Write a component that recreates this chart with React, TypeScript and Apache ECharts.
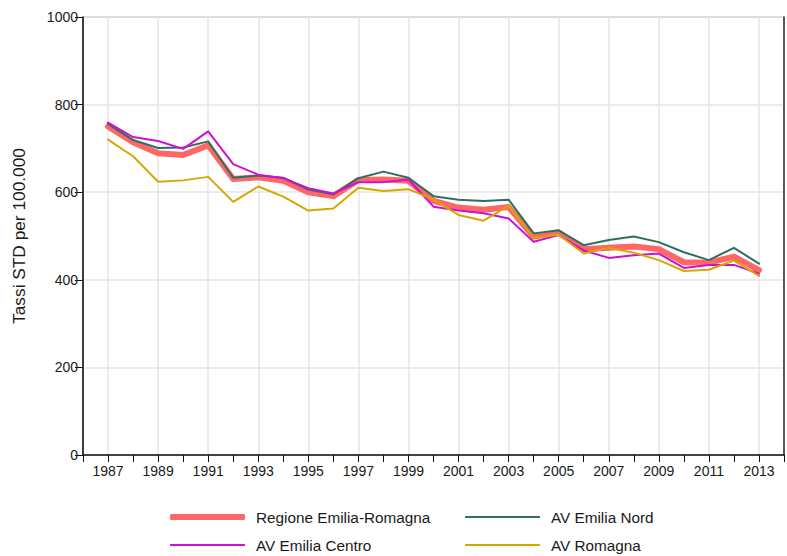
import React, { useEffect, useRef } from 'react';
import * as echarts from 'echarts';

const years = [1987, 1988, 1989, 1990, 1991, 1992, 1993, 1994, 1995, 1996, 1997, 1998, 1999, 2000, 2001, 2002, 2003, 2004, 2005, 2006, 2007, 2008, 2009, 2010, 2011, 2012, 2013];
const regione = [750, 714, 689, 685, 707, 630, 634, 626, 600, 591, 628, 629, 626, 580, 565, 560, 566, 499, 508, 470, 473, 476, 470, 440, 439, 453, 422];
const nord = [756, 719, 701, 702, 716, 633, 638, 633, 606, 595, 632, 647, 633, 591, 583, 580, 583, 506, 513, 479, 491, 499, 486, 463, 445, 473, 437];
const centro = [759, 726, 717, 699, 739, 664, 640, 632, 609, 597, 623, 623, 629, 567, 558, 552, 540, 487, 502, 467, 450, 456, 460, 427, 434, 434, 414];
const romagna = [720, 682, 624, 627, 635, 578, 613, 590, 558, 563, 610, 603, 607, 583, 548, 535, 569, 496, 503, 460, 473, 462, 445, 420, 423, 444, 409];
const yTicks = [0, 200, 400, 600, 800, 1000];

const names = ['Regione Emilia-Romagna', 'AV Emilia Nord', 'AV Emilia Centro', 'AV Romagna'];
const colors = ['#FF6666', '#2F6F62', '#D010D0', '#D4A800'];

export default function App() {
  const ref = useRef<HTMLDivElement>(null);
  useEffect(() => {
    const chart = echarts.init(ref.current!, null, { renderer: 'svg' });
    const font = '"Liberation Sans", Arial, sans-serif';
    const pairs = (vals: number[]) => years.map((y, i) => [y, vals[i]]);
    const allVals = [regione, nord, centro, romagna];
    const legendPos = [
      { left: 170, cy: 517 },
      { left: 465, cy: 517 },
      { left: 170, cy: 545 },
      { left: 465, cy: 545 },
    ];
    chart.setOption({
      animation: false,
      backgroundColor: '#ffffff',
      textStyle: { fontFamily: font },
      grid: {
        left: 83,
        right: 2,
        top: 17,
        bottom: 101,
        show: true,
        borderColor: '#888888',
        borderWidth: 1,
      },
      legend: names.map((n, i) => ({
        data: [{ name: n, icon: 'roundRect' }],
        left: legendPos[i].left,
        top: legendPos[i].cy - 9,
        itemWidth: 75,
        itemHeight: i === 0 ? 6 : 2,
        padding: 0,
        itemStyle: { color: colors[i], borderWidth: 0 },
        textStyle: { fontSize: 15.3, color: '#1a1a1a', fontFamily: font, padding: [0, 0, 0, 6], lineHeight: 18 },
        selectedMode: false,
      })),
      xAxis: {
        type: 'value',
        min: 1986,
        max: 2014,
        interval: 1,
        axisLine: { show: true, lineStyle: { color: '#111', width: 1.5 } },
        axisTick: { show: true, length: 7, lineStyle: { color: '#111' } },
        axisLabel: {
          fontSize: 14,
          color: '#1a1a1a',
          margin: 9,
          fontFamily: font,
          formatter: (v: number) => (v % 2 === 1 ? String(v) : ''),
        },
        splitLine: { show: true, lineStyle: { color: ['rgba(0,0,0,0)', '#e6e6e6'], width: 1.5 } },
      },
      yAxis: [
        {
          type: 'value',
          min: yTicks[0],
          max: yTicks[yTicks.length - 1],
          interval: 200,
          name: 'Tassi STD per 100.000',
          nameLocation: 'middle',
          nameGap: 56,
          nameTextStyle: { fontSize: 17.3, color: '#1a1a1a', fontFamily: font },
          axisLine: { show: true, lineStyle: { color: '#111', width: 1.5 } },
          axisTick: { show: true, length: 8, lineStyle: { color: '#111' } },
          axisLabel: {
            fontSize: 14,
            color: '#1a1a1a',
            margin: 5,
            fontFamily: font,
            formatter: (v: number) => String(v),
          },
          splitLine: { show: true, lineStyle: { color: '#e6e6e6', width: 1.5 } },
        },
        {
          type: 'value',
          position: 'right',
          min: 0,
          max: 1000,
          interval: 200,
          axisLine: { show: true, lineStyle: { color: '#333', width: 1.5 } },
          axisTick: { show: false },
          axisLabel: { show: false },
          splitLine: { show: false },
        },
      ],
      series: names.map((n, i) => ({
        name: n,
        type: 'line',
        data: pairs(allVals[i]),
        symbol: 'none',
        z: i === 0 ? 1 : 2 + i,
        color: colors[i],
        lineStyle: { color: colors[i], width: i === 0 ? 6 : 2, cap: 'round', join: 'round' },
      })),
    });
    return () => chart.dispose();
  }, []);
  return (
    <div
      ref={ref}
      style={{ position: 'fixed', left: 0, top: 0, width: 787, height: 556, background: '#fff' }}
    />
  );
}
